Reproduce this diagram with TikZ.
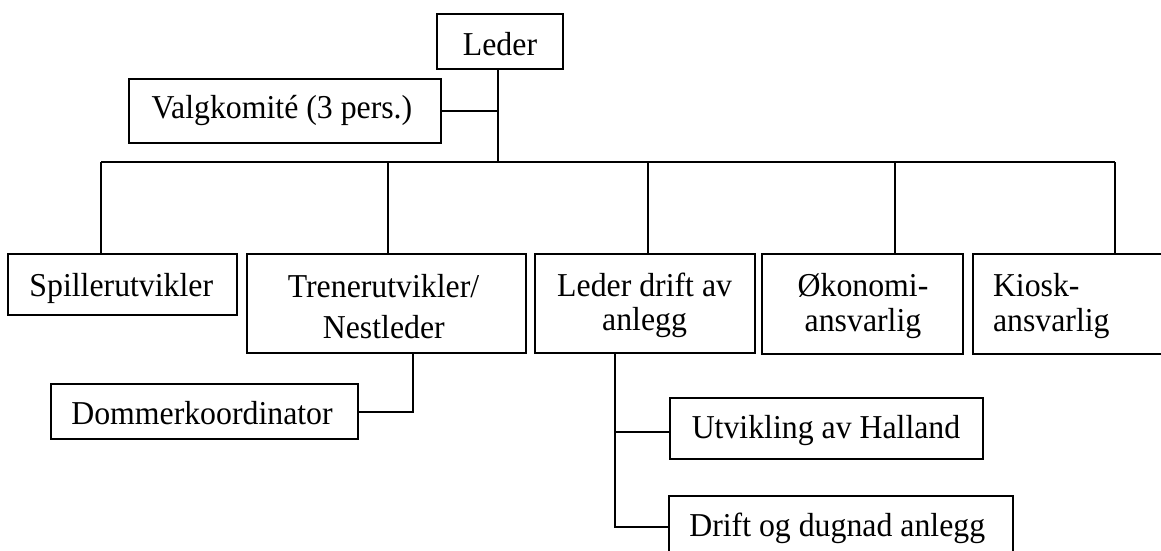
\documentclass[tikz,border=0pt]{standalone}
\usepackage{fontspec}
\setmainfont{Liberation Serif}
\newcommand{\vstr}[1]{\scalebox{1}[1.05]{#1}}
\begin{document}
\begin{tikzpicture}[x=1pt,y=-1pt,
  box/.style={draw=black,line width=2pt,rectangle,inner sep=0pt,outer sep=0pt},
  conn/.style={draw=black,line width=2pt},
  txt/.style={inner sep=0pt,outer sep=0pt,anchor=base,text=black,font=\fontsize{31.8}{36}\selectfont}]
\useasboundingbox (0,0) rectangle (1161,550);
% boxes
\node[box,minimum width=126pt,minimum height=55pt] (leder) at (500,41.5) {};
\node[box,minimum width=312pt,minimum height=64pt] (valg) at (285,111) {};
\node[box,minimum width=229pt,minimum height=60.7pt] (spiller) at (122.85,284.65) {};
\node[box,minimum width=278.4pt,minimum height=98.4pt] (trener) at (386.5,303.5) {};
\node[box,minimum width=220.3pt,minimum height=98.4pt] (drift) at (645.15,303.5) {};
\node[box,minimum width=201pt,minimum height=100pt] (okon) at (862.8,304.3) {};
\node[box,minimum width=202.7pt,minimum height=100pt] (kiosk) at (1074.15,304.3) {};
\node[box,minimum width=306.9pt,minimum height=54.7pt] (dommer) at (204.35,411.65) {};
\node[box,minimum width=312.8pt,minimum height=61pt] (utv) at (826.4,428.8) {};
\node[box,minimum width=344.3pt,minimum height=62pt] (dugnad) at (841.15,526.7) {};
% texts
\node[txt] (tLeder) at (500,55) {\vstr{Leder}};
\node[txt] (tValg) at (282,118.5) {\vstr{Valgkomité (3 pers.)}};
\node[txt] (tSpiller) at (121.3,296.5) {\vstr{Spillerutvikler}};
\node[txt] (tTrener1) at (383.5,297.5) {\vstr{Trenerutvikler/}};
\node[txt] (tTrener2) at (383.8,338.5) {\vstr{Nestleder}};
\node[txt] (tDrift1) at (644.6,296.7) {\vstr{Leder drift av}};
\node[txt] (tDrift2) at (644.6,330.5) {\vstr{anlegg}};
\node[txt] (tOkon1) at (863,296) {\vstr{Økonomi-}};
\node[txt] (tOkon2) at (863,331) {\vstr{ansvarlig}};
\node[txt,anchor=base west] (tKiosk1) at (993,296) {\vstr{Kiosk-}};
\node[txt,anchor=base west] (tKiosk2) at (993,331) {\vstr{ansvarlig}};
\node[txt] (tDommer) at (202,424) {\vstr{Dommerkoordinator}};
\node[txt] (tUtv) at (826,438.5) {\vstr{Utvikling av Halland}};
\node[txt,anchor=base west] (tDugnad) at (689.3,536) {\vstr{Drift og dugnad anlegg}};
% connector points
\coordinate (hub) at (498.3,162.3);
\coordinate (busL) at (101.4,162.3);
\coordinate (bT) at (388.4,162.3);
\coordinate (bD) at (648.3,162.3);
\coordinate (bO) at (894.5,162.3);
\coordinate (busR) at (1115,162.3);
\coordinate (tsub) at (413.3,0);
\coordinate (dsub) at (615,0);
\coordinate (ju) at (615,432.3);
% connectors
\draw[conn] (leder.south -| hub) -- (hub);
\draw[conn] (valg.east) -- (valg.east -| hub);
\draw[conn] (busL) -- (busR);
\draw[conn] (busL) -- (busL |- spiller.north);
\draw[conn] (bT) -- (bT |- trener.north);
\draw[conn] (bD) -- (bD |- drift.north);
\draw[conn] (bO) -- (bO |- okon.north);
\draw[conn] (busR) -- (busR |- kiosk.north);
\draw[conn] (tsub |- trener.south) -- (tsub |- dommer.east) -- (dommer.east);
\draw[conn] (dsub |- drift.south) -- (dsub |- dugnad.west) -- (dugnad.west);
\draw[conn] (ju) -- (ju -| utv.west);
\end{tikzpicture}
\end{document}
